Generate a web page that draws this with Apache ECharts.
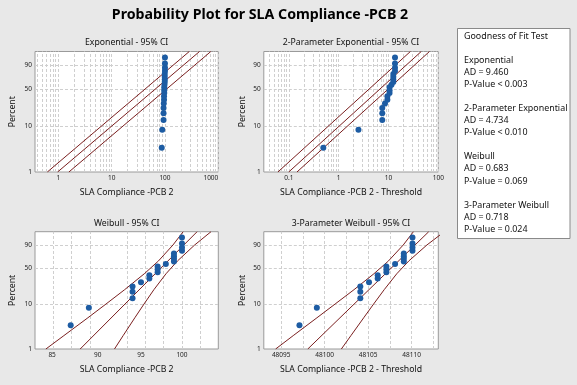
<!DOCTYPE html>
<html><head><meta charset="utf-8">
<script src="https://cdn.jsdelivr.net/npm/echarts@6/dist/echarts.min.js"></script>
<style>html,body{margin:0;padding:0;background:#e8e8e8}#c{width:577px;height:385px}</style>
</head><body><div id="c"></div>
<script>
// ---------- data ----------
const slaValues = [87, 89, 94, 94, 94, 95, 96, 96, 97, 97, 97, 98, 99, 99, 99, 99, 100, 100, 100, 100];
const plotPercents = [3.4, 8.3, 13.2, 18.1, 23.0, 27.9, 32.8, 37.7, 42.6, 47.5, 52.5, 57.4, 62.3, 67.2, 72.1, 77.0, 81.9, 86.8, 91.7, 96.6];
const twoParamThreshold = 86.51;
const threeParamThreshold = -48010.1;

// fitted lines and CI bands, [x on axis, percent]
const expFit = [[0.97, 1], [444.4, 99]];
const expCiLeft = [[0.623, 1], [285.5, 99]];
const expCiRight = [[1.58, 1], [723.6, 99]];
const exp2Fit = [[0.099, 1], [45.36, 99]];
const exp2CiLeft = [[0.060, 1], [27.49, 99]];
const exp2CiRight = [[0.145, 1], [66.45, 99]];
const bandPercents = [1, 2, 5, 10, 20, 40, 63.2, 90, 99];
const weibFit = [[88.04, 1], [101.91, 99]];
const weibCiLeftX = [84.34, 86.26, 88.89, 90.93, 93.08, 95.39, 97.10, 98.88, 100.15];
const weibCiRightX = [91.90, 92.90, 94.27, 95.36, 96.55, 98.02, 99.44, 101.60, 103.70];
const weib3Fit = [[48098.06, 1], [48111.97, 99]];
const weib3CiLeftX = [48094.36, 48096.38, 48099.11, 48101.20, 48103.38, 48105.66, 48107.34, 48109.04, 48110.21];
const weib3CiRightX = [48101.92, 48103.02, 48104.49, 48105.63, 48106.85, 48108.29, 48109.68, 48111.76, 48113.76];

// tick labels
const yTicks = [1, 10, 50, 90];
const yGrid = [10, 50, 90];
const expXTicks = [1, 10, 100, 1000];
const exp2XTicks = [0.1, 1, 10, 100];
const weibXTicks = [85, 90, 95, 100];
const weib3XTicks = [48095, 48100, 48105, 48110];
const weibXGrid = [85, 87.5, 90, 92.5, 95, 97.5, 100, 102.5];
const weib3XGrid = [48095, 48097.5, 48100, 48102.5, 48105, 48107.5, 48110, 48112.5];
const logMinor = [1, 2, 3, 4, 5, 6, 7, 8, 9];
const expDecades = [0.1, 1, 10, 100];
const exp2Decades = [0.01, 0.1, 1, 10];

const gofLines = ['Goodness of Fit Test', '', 'Exponential', 'AD = 9.460', 'P-Value < 0.003', '',
  '2-Parameter Exponential', 'AD = 4.734', 'P-Value < 0.010', '', 'Weibull', 'AD = 0.683', 'P-Value = 0.069', '',
  '3-Parameter Weibull', 'AD = 0.718', 'P-Value = 0.024'];

const panelTitles = ['Exponential - 95% CI', '2-Parameter Exponential - 95% CI', 'Weibull - 95% CI', '3-Parameter Weibull - 95% CI'];
const xNames = ['SLA Compliance -PCB 2', 'SLA Compliance -PCB 2 - Threshold', 'SLA Compliance -PCB 2', 'SLA Compliance -PCB 2 - Threshold'];

// ---------- scales ----------
const pw = p => Math.log(-Math.log(1 - p / 100));
const wp = w => (1 - Math.exp(-Math.exp(w))) * 100;
const lg = v => Math.log10(v);
const xT = [lg, lg, lg, v => v];
const xFmt = [
  v => String(+Math.pow(10, v).toPrecision(4)),
  v => String(+Math.pow(10, v).toPrecision(4)),
  v => String(Math.round(Math.pow(10, v))),
  v => String(Math.round(v))
];
const xTicks = [expXTicks, exp2XTicks, weibXTicks, weib3XTicks];
const mkLog = decs => { const a = []; decs.forEach(d => logMinor.forEach(m => a.push(+(d * m).toPrecision(4)))); a.push(decs[decs.length-1]*10); return a; };
const xGrids = [mkLog(expDecades), mkLog(exp2Decades), weibXGrid, weib3XGrid];
const xRange = [[-0.437, 3.0], [-1.505, 2.0], [lg(83.2), lg(104.65)], [48093, 48113.07]];
const xAdj = [v => v, v => v - twoParamThreshold, v => v, v => v - threeParamThreshold];
const maxAlign = ['right', 'center', 'center', 'center'];

const grids = [
  {left: 35, top: 51.5, width: 183.3, height: 120.5},
  {left: 263.8, top: 51.5, width: 174.5, height: 120.5},
  {left: 35, top: 231.7, width: 183.3, height: 117.3},
  {left: 263.8, top: 231.7, width: 174.5, height: 117.3}
];
const FONT = 'Noto Sans';
const LINE = '#7a1f1f';
const DOT = '#1d5ca3';

const option = {
  animation: false,
  backgroundColor: '#e8e8e8',
  textStyle: {fontFamily: FONT},
  grid: grids.map(g => Object.assign({show: true, backgroundColor: '#ffffff', borderColor: '#9a9a9a', borderWidth: 1}, g)),
  xAxis: [], yAxis: [], series: [], graphic: []
};

const fitSets = [
  [expFit, expCiLeft, expCiRight],
  [exp2Fit, exp2CiLeft, exp2CiRight],
  [weibFit, bandPercents.map((p, i) => [weibCiLeftX[i], p]), bandPercents.map((p, i) => [weibCiRightX[i], p])],
  [weib3Fit, bandPercents.map((p, i) => [weib3CiLeftX[i], p]), bandPercents.map((p, i) => [weib3CiRightX[i], p])]
];

for (let k = 0; k < 4; k++) {
  option.xAxis.push({
    gridIndex: k, type: 'value', min: xRange[k][0], max: xRange[k][1],
    axisLine: {show: false}, splitLine: {show: false},
    axisTick: {show: false},
    axisLabel: {customValues: xTicks[k].map(xT[k]), formatter: xFmt[k], fontSize: 6.5, color: '#222', margin: 3, alignMaxLabel: maxAlign[k]},
    name: xNames[k], nameLocation: 'middle', nameGap: 16,
    nameTextStyle: {fontSize: 8.7, color: '#111'}
  });
  option.yAxis.push({
    gridIndex: k, type: 'value', min: pw(1), max: pw(99),
    axisLine: {show: false}, splitLine: {show: false},
    axisTick: {show: false},
    axisLabel: {customValues: yTicks.map(pw), formatter: v => String(Math.round(wp(v))), fontSize: 6.5, color: '#222', margin: 3},
    name: 'Percent', nameLocation: 'middle', nameGap: k % 2 === 0 ? 18 : 17,
    nameTextStyle: {fontSize: 8.7, color: '#111'}
  });
  // gridlines
  option.series.push({
    type: 'line', xAxisIndex: k, yAxisIndex: k, data: [], z: 1, silent: true,
    markLine: {
      silent: true, symbol: 'none', z: 1, label: {show: false},
      lineStyle: {type: [3, 2], color: '#cfcfcf', width: 1},
      data: xGrids[k].map(v => ({xAxis: xT[k](v)})).concat(yGrid.map(p => ({yAxis: pw(p)})))
    }
  });
  // fit line + CI
  fitSets[k].forEach(arr => {
    option.series.push({
      type: 'line', xAxisIndex: k, yAxisIndex: k, z: 2, showSymbol: false, silent: true,
      lineStyle: {color: LINE, width: 1}, clip: true,
      data: arr.map(d => [xT[k](d[0]), pw(d[1])])
    });
  });
  // points
  option.series.push({
    type: 'scatter', xAxisIndex: k, yAxisIndex: k, z: 10, symbol: 'circle', symbolSize: 6,
    itemStyle: {color: DOT, opacity: 1, borderWidth: 0},
    data: slaValues.map((v, i) => [xT[k](xAdj[k](v)), pw(plotPercents[i])])
  });
  // panel title
  const g = grids[k];
  option.graphic.push({
    type: 'text', x: g.left + g.width / 2, y: g.top - 8.5,
    style: {text: panelTitles[k], fontSize: 8.7, fontFamily: FONT, fill: '#111', textAlign: 'center', textVerticalAlign: 'middle'}
  });
}

option.graphic.push({
  type: 'text', x: 260, y: 15,
  style: {text: 'Probability Plot for SLA Compliance -PCB 2', fontSize: 14.2, fontWeight: 'bold', fontFamily: FONT, fill: '#000', textAlign: 'center', textVerticalAlign: 'middle'}
});
option.graphic.push({
  type: 'rect', shape: {x: 457.5, y: 28.5, width: 112.5, height: 210},
  style: {fill: '#ffffff', stroke: '#8a8a8a', lineWidth: 1}
});
option.graphic.push({
  type: 'text', x: 464, y: 30,
  style: {text: gofLines.join('\n'), fontSize: 8.9, lineHeight: 12.08, fontFamily: FONT, fill: '#111', textAlign: 'left', textVerticalAlign: 'top'}
});

const chart = echarts.init(document.getElementById('c'), null, {renderer: 'canvas', width: 577, height: 385});
chart.setOption(option);
</script></body></html>
